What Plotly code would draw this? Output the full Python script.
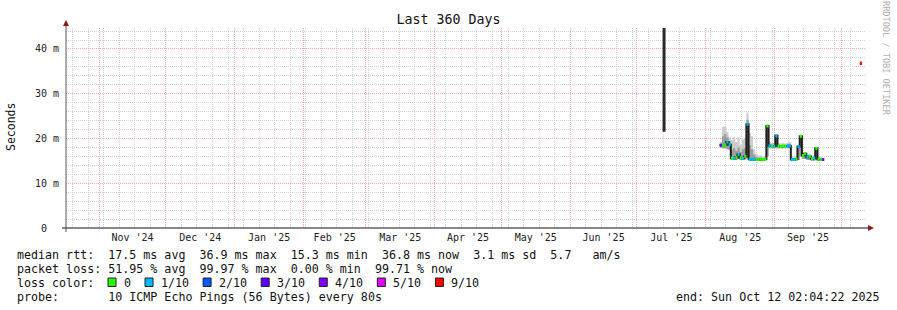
import plotly.graph_objects as go
import pandas as pd

# ---------------- data ----------------
title_text = "Last 360 Days"
range_start = "2024-10-17 02:04:22"
range_end = "2025-10-12 02:04:22"

series_start = "2025-08-07 06:00"
median_ms = [18.5, 18.5, 18.6, 19.2, 18.6, 15.6, 15.6, 15.8, 16.4, 15.7,
             15.6, 16.0, 23.2, 15.4, 15.3, 15.4, 15.3, 15.3, 15.4, 15.3,
             15.4, 22.8, 18.4, 18.3, 18.3, 20.6, 18.3, 18.2, 18.3, 18.3,
             18.3, 18.4, 15.3, 15.3, 15.4, 18.2, 20.5, 16.2, 16.6, 15.8,
             16.0, 15.5, 15.6, 17.8, 15.3, 15.3, 15.3]
loss_idx = [3, 0, 0, 1, 1, 0, 1, 0, 1, 0,
            1, 0, 1, 1, 1, 1, 0, 0, 0, 0,
            0, 0, 1, 0, 1, 1, 0, 0, 0, 0,
            1, 1, 1, 1, 0, 1, 0, 0, 0, 1,
            0, 0, 1, 0, 0, 0, 4]
smoke_lo = [18.0, 17.8, 17.8, 17.6, 17.5, 15.2, 15.2, 15.2, 15.4, 15.2,
            15.2, 15.3, 15.6, 15.0, 15.0, 15.0, 15.0, 15.0, 15.0, 15.0,
            15.0, 16.0, 17.8, 17.8, 17.8, 17.8, 17.8, 17.8, 17.8, 17.8,
            17.8, 17.8, 15.0, 15.0, 15.0, 15.2, 16.0, 15.4, 15.4, 15.2,
            15.2, 15.0, 15.0, 15.2, 15.0, 15.0, 15.0]
smoke_hi = [19.2, 22.6, 22.7, 21.5, 20.2, 19.6, 20.3, 19.2, 20.3, 18.6,
            19.8, 20.0, 25.8, 21.2, 20.5, 17.6, 16.6, 16.2, 16.2, 16.0,
            16.0, 23.0, 19.2, 19.0, 19.0, 21.0, 19.0, 18.9, 19.0, 18.9,
            19.0, 19.2, 16.0, 15.9, 16.0, 18.6, 20.8, 16.8, 17.0, 16.4,
            16.6, 16.2, 16.2, 18.0, 15.8, 15.8, 15.6]
smoke_core_hi = [18.8, 20.5, 21.0, 20.2, 19.4, 17.5, 17.8, 17.2, 18.0, 17.0,
                 17.6, 17.8, 24.2, 18.5, 17.6, 16.4, 15.9, 15.7, 15.7, 15.6,
                 15.6, 22.8, 18.7, 18.6, 18.6, 20.8, 18.6, 18.5, 18.6, 18.5,
                 18.6, 18.7, 15.6, 15.5, 15.6, 18.4, 20.6, 16.5, 16.8, 16.0,
                 16.2, 15.8, 15.8, 17.9, 15.5, 15.5, 15.4]

spike_dates = ["2025-07-13 05:00", "2025-07-13 05:00"]
spike_ms = [21.5, 50.0]

now_dates = ["2025-10-09 06:00", "2025-10-10 06:00"]
now_ms = [36.8, 36.8]
now_loss = 6

loss_labels = ["0", "1/10", "2/10", "3/10", "4/10", "5/10", "9/10"]
loss_colors = ["#26ff00", "#00b8ff", "#0059ff", "#5e00ff", "#7e00ff", "#dd00ff", "#ff0000"]

y_tickvals = [0, 10, 20, 30, 40]
y_ticktext = ["0\u00a0\u00a0", "10 m", "20 m", "30 m", "40 m"]
y_max_ms = 44.69

stats_rtt = "median rtt:  17.5 ms avg  36.9 ms max  15.3 ms min  36.8 ms now  3.1 ms sd  5.7   am/s"
stats_loss = "packet loss: 51.95 % avg  99.97 % max  0.00 % min  99.71 % now"
loss_title = "loss color:"
probe_text = "probe:       10 ICMP Echo Pings (56 Bytes) every 80s"
end_text = "end: Sun Oct 12 02:04:22 2025"
y_title = "Seconds"
credit = "RRDTOOL / TOBI OETIKER"

# ---------------- geometry ----------------
W, H = 897, 310
L, R, T, B = 66, 31, 28, 82
PW, PH = W - L - R, H - T - B
MONO = "DejaVu Sans Mono"


def px2x(px):
    return (px - L) / PW


def px2y(py):
    return (T + PH - py) / PH


def nb(s):
    return s.replace(" ", "\u00a0")


dates = pd.date_range(series_start, periods=len(median_ms) + 1, freq="D")

fig = go.Figure()

# smoke (outer)
fig.add_trace(go.Scatter(x=dates, y=smoke_lo + [smoke_lo[-1]], mode="lines",
                         line=dict(width=0, shape="hv"), hoverinfo="skip"))
fig.add_trace(go.Scatter(x=dates, y=smoke_hi + [smoke_hi[-1]], mode="lines",
                         line=dict(width=0, shape="hv"), fill="tonexty",
                         fillcolor="#cdcdcd", hoverinfo="skip"))
# smoke (core)
fig.add_trace(go.Scatter(x=dates, y=smoke_lo + [smoke_lo[-1]], mode="lines",
                         line=dict(width=0, shape="hv"), hoverinfo="skip"))
fig.add_trace(go.Scatter(x=dates, y=smoke_core_hi + [smoke_core_hi[-1]], mode="lines",
                         line=dict(width=0, shape="hv"), fill="tonexty",
                         fillcolor="#9c9c9c", hoverinfo="skip"))

# median dark line
fig.add_trace(go.Scatter(x=dates, y=median_ms + [median_ms[-1]], mode="lines",
                         line=dict(color="#1e1e1e", width=2.0, shape="hv"),
                         hoverinfo="skip"))

# loss-coloured median segments
for c, col in enumerate(loss_colors):
    xs, ys = [], []
    for i, v in enumerate(median_ms):
        if loss_idx[i] == c:
            xs += [dates[i], dates[i + 1], None]
            ys += [v, v, None]
    if xs:
        fig.add_trace(go.Scatter(x=xs, y=ys, mode="lines",
                                 line=dict(color=col, width=3),
                                 hoverinfo="skip"))

# july spike
fig.add_trace(go.Scatter(x=spike_dates, y=spike_ms, mode="lines",
                         line=dict(color="#2a2a2a", width=3), hoverinfo="skip"))
# now value
fig.add_trace(go.Scatter(x=now_dates, y=now_ms, mode="lines",
                         line=dict(color=loss_colors[now_loss], width=3.5),
                         hoverinfo="skip"))

grid_gray = "#d2d2d2"
grid_red = "#f4aaaa"

fig.update_xaxes(
    type="date", range=[range_start, range_end],
    dtick="M1", tick0="2024-11-01", tickformat="%b '%y",
    ticklabelmode="period",
    showgrid=True, gridcolor=grid_red, griddash="1px,1px", gridwidth=1,
    ticks="", showline=False, zeroline=False, ticklabelstandoff=2,
    tickfont=dict(family=MONO, size=10, color="#222"),
    minor=dict(dtick=7 * 86400000, tick0="2024-10-20", showgrid=True,
               gridcolor=grid_gray, griddash="1px,1px", gridwidth=1),
    fixedrange=True,
)
fig.update_yaxes(
    range=[0, y_max_ms], tickvals=y_tickvals, ticktext=y_ticktext,
    showgrid=True, gridcolor=grid_red, griddash="1px,1px", gridwidth=1,
    ticks="outside", ticklen=4, tickcolor="rgba(0,0,0,0)",
    showline=False, zeroline=False,
    tickfont=dict(family=MONO, size=10, color="#222"),
    minor=dict(dtick=2, showgrid=True, gridcolor=grid_gray,
               griddash="1px,1px", gridwidth=1),
    fixedrange=True,
)

shapes = []
# axes lines
shapes.append(dict(type="line", xref="paper", yref="paper",
                   x0=px2x(62), x1=px2x(869), y0=0, y1=0,
                   line=dict(color="#111", width=1)))
shapes.append(dict(type="line", xref="paper", yref="paper",
                   x0=0, x1=0, y0=px2y(232), y1=px2y(24),
                   line=dict(color="#555", width=1)))
# arrows
shapes.append(dict(type="path", xref="paper", yref="paper",
                   path=f"M {px2x(868)},{px2y(225)} L {px2x(874)},{px2y(228)} L {px2x(868)},{px2y(231)} Z",
                   fillcolor="#8b1a1a", line=dict(width=0)))
shapes.append(dict(type="path", xref="paper", yref="paper",
                   path=f"M {px2x(63)},{px2y(26)} L {px2x(66)},{px2y(20)} L {px2x(69)},{px2y(26)} Z",
                   fillcolor="#8b1a1a", line=dict(width=0)))

annotations = []


def text_at(px, py, s, size=11.66, color="#111", xanchor="left", angle=0):
    annotations.append(dict(x=px2x(px), y=px2y(py), xref="paper", yref="paper",
                            text=nb(s), showarrow=False, xanchor=xanchor,
                            yanchor="middle", textangle=angle, borderpad=0,
                            font=dict(family=MONO, size=size, color=color)))


text_at(16, 254.5, stats_rtt)
text_at(16, 268.5, stats_loss)
text_at(16, 282.5, loss_title)
text_at(16, 296.5, probe_text)
text_at(881, 296.5, end_text, xanchor="right")

# loss legend boxes
cx = 108.0
for lab, col in zip(loss_labels, loss_colors):
    shapes.append(dict(type="rect", xref="paper", yref="paper",
                       x0=px2x(cx), x1=px2x(cx + 8), y0=px2y(286.5), y1=px2y(278),
                       fillcolor=col, line=dict(color="#222", width=1)))
    text_at(cx + 15, 282.5, lab)
    cx += 15 + 7.02 * len(lab) + 15

# y title
annotations.append(dict(x=px2x(11), y=px2y(127), xref="paper", yref="paper",
                        text=y_title, showarrow=False, textangle=-90,
                        xanchor="center", yanchor="middle",
                        font=dict(family=MONO, size=11.5, color="#111")))
# credit
annotations.append(dict(x=px2x(886), y=px2y(59), xref="paper", yref="paper",
                        text=nb(credit), showarrow=False, textangle=90,
                        xanchor="center", yanchor="middle",
                        font=dict(family=MONO, size=8.6, color="#b0b0b0")))

fig.update_layout(
    width=W, height=H,
    margin=dict(l=L, r=R, t=T, b=B, pad=0),
    paper_bgcolor="white", plot_bgcolor="white",
    showlegend=False,
    font=dict(family=MONO, color="#111"),
    title=dict(text=title_text, x=0.5, xanchor="center", y=1 - 19.5 / H,
               yanchor="middle", font=dict(family=MONO, size=13.3, color="#111")),
    shapes=shapes, annotations=annotations,
)

fig.write_html("out.html")
